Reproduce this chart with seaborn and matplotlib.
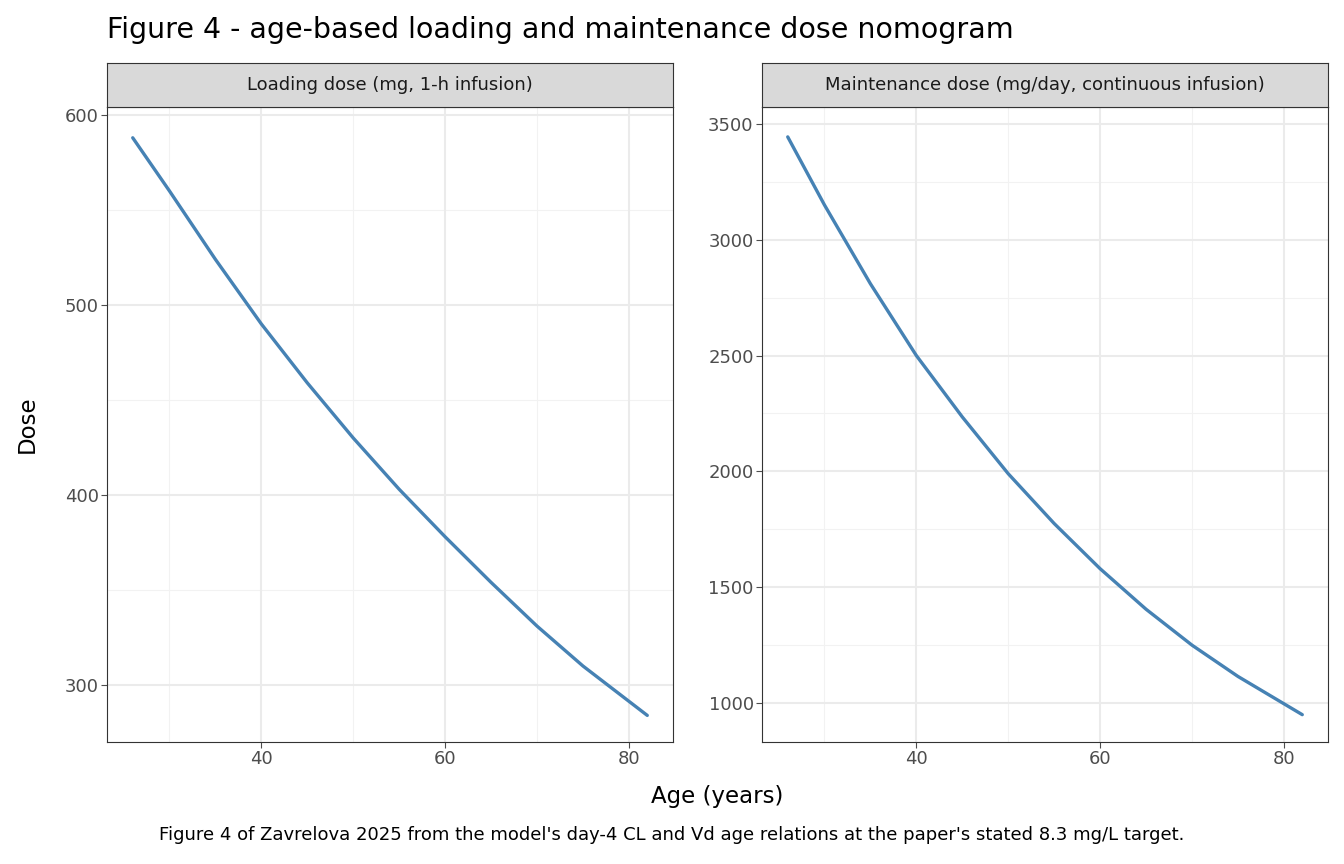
import matplotlib
matplotlib.use("Agg")
import matplotlib.pyplot as plt
import seaborn as sns
import pandas as pd

ages = [26, 30, 35, 40, 45, 50, 55, 60, 65, 70, 75, 82]
loading = [588, 560, 524, 490, 459, 430, 403, 378, 354, 331, 310, 284]
maint = [3444, 3150, 2810, 2500, 2235, 1990, 1775, 1580, 1405, 1250, 1115, 950]
panels = ["Loading dose (mg, 1-h infusion)", "Maintenance dose (mg/day, continuous infusion)"]

sns.set_theme(style="white")
plt.rcParams['font.family'] = ['DejaVu Sans']

W, H = 1344, 864
fig = plt.figure(figsize=(W/100, H/100), dpi=100)

def rect(x0, y0, x1, y1):
    return [x0/W, 1-y1/H, (x1-x0)/W, (y1-y0)/H]

specs = [
    (loading, (107, 673), (270, 604.2), [300, 400, 500, 600], [350, 450, 550]),
    (maint, (762, 1328), (832, 3573), [1000, 1500, 2000, 2500, 3000, 3500], [1250, 1750, 2250, 2750, 3250]),
]
for i, (vals, (x0, x1), ylim, yt, ym) in enumerate(specs):
    ax = fig.add_axes(rect(x0, 107, x1, 742))
    df = pd.DataFrame({"age": ages, "dose": vals})
    for v in [30, 50, 70]:
        ax.axvline(v, color="#f2f2f2", lw=0.8, zorder=0)
    for v in ym:
        ax.axhline(v, color="#f2f2f2", lw=0.8, zorder=0)
    for v in [40, 60, 80]:
        ax.axvline(v, color="#ebebeb", lw=1.5, zorder=0)
    for v in yt:
        ax.axhline(v, color="#ebebeb", lw=1.5, zorder=0)
    sns.lineplot(data=df, x="age", y="dose", ax=ax, color="steelblue", lw=2.4)
    ax.set_xlim(23.2, 84.8)
    ax.set_ylim(*ylim)
    ax.set_xticks([40, 60, 80])
    ax.set_yticks(yt)
    ax.set_xlabel(""); ax.set_ylabel("")
    ax.tick_params(axis="both", labelsize=13, colors="#4d4d4d", length=4, width=0.8, direction="out",
                   left=True, bottom=True, pad=2)
    for s in ax.spines.values():
        s.set_color("#333333"); s.set_linewidth(0.8)
    sax = fig.add_axes(rect(x0, 63, x1, 107))
    sax.set_facecolor("#d9d9d9")
    sax.set_xticks([]); sax.set_yticks([])
    for s in sax.spines.values():
        s.set_color("#333333"); s.set_linewidth(0.8)
    sax.text(0.5, 0.5, panels[i], ha="center", va="center", fontsize=13, color="#1a1a1a",
             transform=sax.transAxes)

fig.text(107/W, 1-30/H, "Figure 4 - age-based loading and maintenance dose nomogram", fontsize=20.5,
         ha="left", va="center", color="black")
fig.text(717/W, 1-797/H, "Age (years)", fontsize=16.5, ha="center", va="center", color="black")
fig.text(27/W, 1-424/H, "Dose", fontsize=16.5, ha="center", va="center", rotation=90, color="black")
fig.text(672/W, 1-835/H, "Figure 4 of Zavrelova 2025 from the model's day-4 CL and Vd age relations at the paper's stated 8.3 mg/L target.",
         fontsize=13, ha="center", va="center", color="black")
fig.savefig("out.png", dpi=100)
